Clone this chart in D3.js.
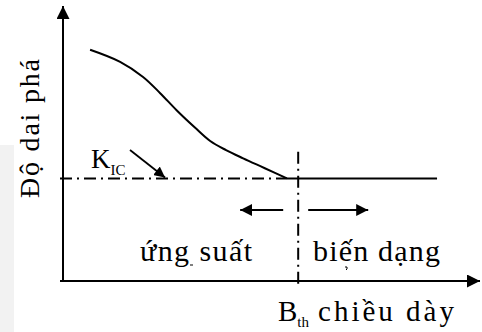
<!DOCTYPE html>
<html><head><meta charset="utf-8"><script src="https://cdn.jsdelivr.net/npm/d3@7"></script>
<style>
  svg text, svg tspan { font-family: 'Liberation Serif', 'Times New Roman', Tinos, serif !important; }
</style>
</head>
<body style="margin:0">
<div id="c"></div>
<script>
// curve of fracture toughness vs thickness
var thickness = [6.5, 13.7, 19.2, 23.3, 27.3, 31.7, 35.3, 39.1, 43.2, 48.4, 53.7, 89.7];
var toughness = [84.1, 79.7, 74.2, 68.3, 62.0, 55.7, 50.9, 47.6, 44.6, 41.0, 37.3, 37.3];
var kic = 37.3;
var bth = 56.4;
var yTitle = "Độ dai phá";
var xTitle = "chiều dày";
var regionNames = ["ứng suất", "biến dạng"];

var serifStack = "'Liberation Serif', 'Times New Roman', Tinos, serif";

var svg = d3.select("#c").append("svg")
    .attr("width", 482).attr("height", 332)
    .attr("font-family", serifStack);

var x = d3.scaleLinear().domain([0, 100]).range([63, 480]);
var y = d3.scaleLinear().domain([0, 100]).range([281, 6]);

function addText(px, py, size) {
  return svg.append("text")
    .attr("x", px).attr("y", py)
    .attr("font-family", serifStack)
    .style("font-family", serifStack, "important")
    .style("font-size", size + "px");
}

var defs = svg.append("defs");
defs.append("marker")
    .attr("id", "arr")
    .attr("viewBox", "0 0 10 10")
    .attr("refX", 10).attr("refY", 5)
    .attr("markerWidth", 6).attr("markerHeight", 6)
    .attr("markerUnits", "strokeWidth")
    .attr("orient", "auto")
  .append("path").attr("d", "M0,0 L10,5 L0,10 Z").attr("fill", "#000");
defs.append("marker")
    .attr("id", "arrBig")
    .attr("viewBox", "0 0 10 10")
    .attr("refX", 10).attr("refY", 5)
    .attr("markerWidth", 8).attr("markerHeight", 6.5)
    .attr("markerUnits", "strokeWidth")
    .attr("orient", "auto")
  .append("path").attr("d", "M0,0 L10,5 L0,10 Z").attr("fill", "#000");

// faint grey strip on the left edge
svg.append("rect").attr("x", 0).attr("y", 145).attr("width", 14).attr("height", 187).attr("fill", "#f2f2f2");

// axes
svg.append("line")
    .attr("x1", x(0)).attr("y1", y(0) + 1)
    .attr("x2", x(0)).attr("y2", y(100))
    .attr("stroke", "#000").attr("stroke-width", 2)
    .attr("marker-end", "url(#arrBig)");
svg.append("line")
    .attr("x1", x(0) - 3).attr("y1", y(0))
    .attr("x2", x(100)).attr("y2", y(0))
    .attr("stroke", "#000").attr("stroke-width", 2)
    .attr("marker-end", "url(#arrBig)");

// K_IC dash-dot line
svg.append("line")
    .attr("x1", x(0) - 3).attr("y1", y(kic))
    .attr("x2", x(thickness[10])).attr("y2", y(kic))
    .attr("stroke", "#000").attr("stroke-width", 2)
    .attr("stroke-dasharray", "12,5,2,5");

// B_th vertical dash-dot line
svg.append("line")
    .attr("x1", x(bth)).attr("y1", y(47))
    .attr("x2", x(bth)).attr("y2", y(0) + 3)
    .attr("stroke", "#000").attr("stroke-width", 2)
    .attr("stroke-dasharray", "12,5,2,5");

// curve: smooth falling part, then flat plateau at K_IC
var pts = thickness.map(function(d, i) { return [d, toughness[i]]; });
var line = d3.line()
    .x(function(d) { return x(d[0]); })
    .y(function(d) { return y(d[1]); });
svg.append("path")
    .datum(pts.slice(0, 11))
    .attr("fill", "none")
    .attr("stroke", "#000")
    .attr("stroke-width", 2)
    .attr("d", line.curve(d3.curveCatmullRom.alpha(0.5)));
svg.append("path")
    .datum(pts.slice(10))
    .attr("fill", "none")
    .attr("stroke", "#000")
    .attr("stroke-width", 2)
    .attr("d", line.curve(d3.curveLinear));

// K_IC label and pointer
var k = addText(91, 168, 27);
k.append("tspan").text("K");
k.append("tspan").attr("dy", 7).style("font-size", "15px").text("IC");
svg.append("line")
    .attr("x1", 130).attr("y1", 150)
    .attr("x2", 165).attr("y2", y(kic) - 1)
    .attr("stroke", "#000").attr("stroke-width", 1.8)
    .attr("marker-end", "url(#arr)");

// region arrows
svg.append("line")
    .attr("x1", x(bth) - 15).attr("y1", 210)
    .attr("x2", x(bth) - 58).attr("y2", 210)
    .attr("stroke", "#000").attr("stroke-width", 2)
    .attr("marker-end", "url(#arr)");
svg.append("line")
    .attr("x1", x(bth) + 10).attr("y1", 210)
    .attr("x2", x(bth) + 70).attr("y2", 210)
    .attr("stroke", "#000").attr("stroke-width", 2)
    .attr("marker-end", "url(#arr)");

// region labels
addText(140, 261, 30).attr("textLength", 112).text(regionNames[0]);
addText(313, 261, 30).attr("textLength", 127).text(regionNames[1]);
// stray diacritic marks under the labels
svg.append("path").attr("d", "M190,265 l3,0").attr("stroke", "#000").attr("stroke-width", 1);
svg.append("path").attr("d", "M345,267 q3,-1 2,2 l-1,1").attr("fill", "none").attr("stroke", "#000").attr("stroke-width", 1);

// x title
var b = addText(278, 321, 29);
b.append("tspan").text("B");
b.append("tspan").attr("dy", 6).style("font-size", "15px").text("th");
addText(318, 321, 29).attr("textLength", 136).text(xTitle);

// y title
addText(0, 0, 28)
    .attr("transform", "translate(39,198) rotate(-90)")
    .attr("textLength", 139)
    .text(yTitle);
</script>
</body>
</html>
